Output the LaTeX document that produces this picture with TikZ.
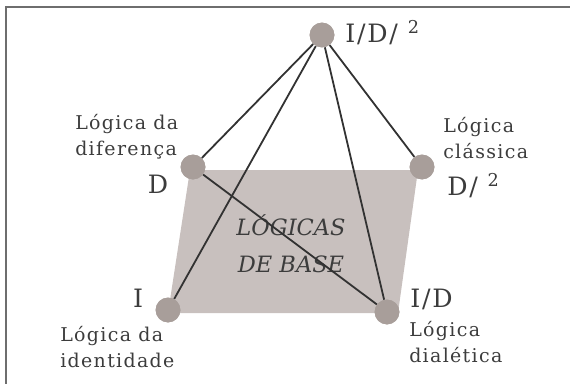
\documentclass[tikz,border=0pt]{standalone}
\usepackage{fontspec}
\setmainfont{DejaVu Serif}
\newfontfamily\spaced[LetterSpace=7]{DejaVu Serif}
\usetikzlibrary{positioning}

\definecolor{plane}{RGB}{200,192,190}
\definecolor{dot}{RGB}{168,158,154}
\definecolor{ink}{RGB}{60,60,60}
\definecolor{edge}{RGB}{50,50,50}
\definecolor{frame}{RGB}{110,110,110}

\tikzset{
    vertex/.style={circle, fill=dot, minimum size=6.2mm, inner sep=0pt},
    lbl/.style={text=ink, inner sep=0pt, font=\spaced\fontsize{18}{21}\selectfont},
    desc/.style={text=ink, inner sep=0pt, align=left, font=\spaced\fontsize{13.5}{18.6}\selectfont},
    link/.style={draw=edge, line width=0.45mm},
}

\begin{document}
\begin{tikzpicture}[x=0.25mm, y=-0.25mm]
    \useasboundingbox (0,0) rectangle (570,384);

    % Frame
    \draw[frame, line width=0.5mm] (570,7) -- (6,7) -- (6,384);

    % Base plane
    \fill[plane] (190,170) -- (418,170) -- (398,313) -- (168,313) -- cycle;
    \node[text=ink, inner sep=0pt, align=center, font=\fontsize{16}{26}\selectfont\itshape]
        (base) at (291,244) {LÓGICAS\\DE BASE};

    % Vertices
    \node[vertex] (top) at (322,35) {};
    \node[vertex] (d)   at (193,167) {};
    \node[vertex] (d2)  at (422,167) {};
    \node[vertex] (i)   at (168,310) {};
    \node[vertex] (id)  at (387,312) {};

    % Edges
    \draw[link] (top) -- (d);
    \draw[link] (top) -- (i);
    \draw[link] (top) -- (id);
    \draw[link] (top) -- (d2);
    \draw[link] (d) -- (id);

    % Redraw vertices over the edges
    \foreach \v in {top, d, d2, i, id}
        \fill[dot] (\v) circle (3.1mm);

    % Letters
    \node[lbl, anchor=base west] (ltop) at (345,42) {I/D/ \textsuperscript{2}};
    \node[lbl, anchor=base] (ld) at (158,193) {D};
    \node[lbl, anchor=base west] (ld2) at (447,195) {D/ \textsuperscript{2}};
    \node[lbl, anchor=base] (li) at (138,307) {I};
    \node[lbl, anchor=base west] (lid) at (410,307) {I/D};

    % Descriptions
    \node[desc, anchor=north west] (dd)  at (75,114)  {Lógica da\\diferença};
    \node[desc, anchor=north west] (dd2) at (443,117) {Lógica\\clássica};
    \node[desc, anchor=north west] (di)  at (60,326)  {Lógica da\\identidade};
    \node[desc, anchor=north west] (did) at (409,321) {Lógica\\dialética};

\end{tikzpicture}
\end{document}
